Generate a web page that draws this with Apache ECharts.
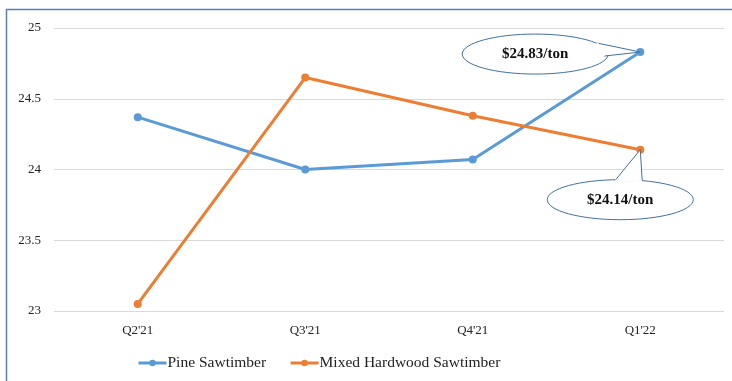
<!DOCTYPE html>
<html>
<head>
<meta charset="utf-8">
<script src="https://cdn.jsdelivr.net/npm/echarts@6/dist/echarts.min.js"></script>
<style>
  html, body { margin: 0; padding: 0; background: #fff; }
  #chart { width: 732px; height: 381px; }
</style>
</head>
<body>
<div id="chart"></div>
<script>
// data
const quarters = ["Q2'21", "Q3'21", "Q4'21", "Q1'22"];
const pineValues = [24.37, 24.00, 24.07, 24.83];
const hardwoodValues = [23.05, 24.65, 24.38, 24.14];
const seriesNames = ['Pine Sawtimber', 'Mixed Hardwood Sawtimber'];
const calloutTexts = ['$24.83/ton', '$24.14/ton'];

const chart = echarts.init(document.getElementById('chart'));
const font = 'Liberation Serif';

const option = {
  animation: false,
  grid: { left: 54, right: 8, top: 28, bottom: 70 },
  xAxis: {
    type: 'category',
    data: quarters,
    boundaryGap: true,
    axisLine: { show: false },
    axisTick: { show: false },
    axisLabel: { color: '#222', fontFamily: font, fontSize: 13, margin: 13 }
  },
  yAxis: {
    type: 'value',
    min: 23, max: 25, interval: 0.5,
    axisLine: { show: false },
    axisTick: { show: false },
    axisLabel: { color: '#222', fontFamily: font, fontSize: 13, margin: 13 },
    splitLine: { lineStyle: { color: '#d9d9d9', width: 1 } }
  },
  legend: {
    left: 132, top: 350,
    itemWidth: 28, itemHeight: 8, itemGap: 23,
    lineStyle: { width: 3 },
    textStyle: { fontFamily: font, fontSize: 15.5, color: '#222', padding: [0, 0, 0, -4] },
    data: seriesNames
  },
  series: [
    {
      name: seriesNames[0], type: 'line', data: pineValues,
      symbol: 'circle', symbolSize: 8,
      lineStyle: { color: '#5B9BD5', width: 3 },
      itemStyle: { color: '#5B9BD5' }
    },
    {
      name: seriesNames[1], type: 'line', data: hardwoodValues,
      symbol: 'circle', symbolSize: 8,
      lineStyle: { color: '#ED7D31', width: 3 },
      itemStyle: { color: '#ED7D31' }
    }
  ]
};
chart.setOption(option);

// callouts anchored to last points
const last = quarters.length - 1;
const p1 = chart.convertToPixel({ seriesIndex: 0 }, [last, pineValues[last]]);
const p2 = chart.convertToPixel({ seriesIndex: 1 }, [last, hardwoodValues[last]]);
const stroke = '#41719C';

function callout(cx, cy, tip, base1, base2, text) {
  return [
    {
      type: 'ellipse', shape: { cx: cx, cy: cy, rx: 73, ry: 20 },
      style: { fill: '#fff', stroke: stroke, lineWidth: 1 }, z: 10
    },
    {
      type: 'polygon', shape: { points: [base1, tip, base2] },
      style: { fill: '#fff', stroke: stroke, lineWidth: 1 }, z: 11
    },
    {
      type: 'line', shape: { x1: base1[0], y1: base1[1], x2: base2[0], y2: base2[1] },
      style: { stroke: '#fff', lineWidth: 2 }, z: 12
    },
    {
      type: 'text', x: cx, y: cy, z: 13,
      style: { text: text, fill: '#111', font: 'bold 15px "Liberation Serif"', align: 'center', verticalAlign: 'middle' }
    }
  ];
}

const c1x = p1[0] - 105, c1y = p1[1] + 2;
const c2x = p2[0] - 20, c2y = p2[1] + 50;

chart.setOption({
  graphic: [
    {
      type: 'rect', shape: { x: 6.5, y: 9.5, width: 760, height: 420 },
      style: { fill: null, stroke: '#4F81BD', lineWidth: 1.5 }, z: 1
    }
  ].concat(
    callout(c1x, c1y, p1, [c1x + 62, c1y - 11], [c1x + 69, c1y + 2], calloutTexts[0]),
    callout(c2x, c2y, p2, [c2x - 5, c2y - 19.5], [c2x + 22, c2y - 18.5], calloutTexts[1])
  )
});
</script>
</body>
</html>
